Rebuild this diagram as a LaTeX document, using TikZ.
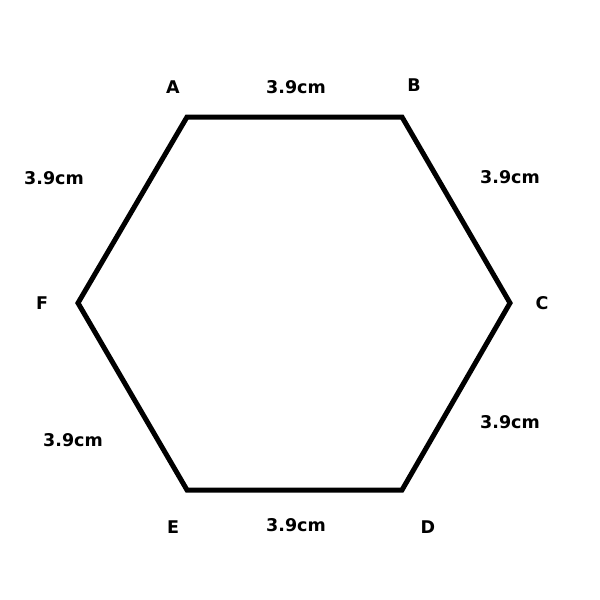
\documentclass[tikz,border=0pt]{standalone}
\usepackage{fontspec}
\setmainfont{DejaVu Sans}
\begin{document}
\begin{tikzpicture}[x=1pt,y=-1pt,
  lbl/.style={font=\fontsize{17.5}{20}\selectfont\bfseries, text=black, inner sep=0pt},
  edge/.style={line width=5pt, line join=miter, black}]
\useasboundingbox (0,0) rectangle (600,600);
\coordinate (A) at (187,117);
\coordinate (B) at (402,117);
\coordinate (C) at (510,303);
\coordinate (D) at (402,490);
\coordinate (E) at (187,490);
\coordinate (F) at (78,303);
\draw[edge] (A) -- (B) -- (C) -- (D) -- (E) -- (F) -- cycle;
\node[lbl] (la) at (173,87) {A};
\node[lbl] (lb) at (414,85) {B};
\node[lbl] (lc) at (542,303) {C};
\node[lbl] (ld) at (428,527) {D};
\node[lbl] (le) at (173,527) {E};
\node[lbl] (lf) at (42,303) {F};
\node[lbl] (sab) at (296,87) {3.9cm};
\node[lbl] (sbc) at (510,177) {3.9cm};
\node[lbl] (scd) at (510,422) {3.9cm};
\node[lbl] (sde) at (296,525) {3.9cm};
\node[lbl] (sef) at (73,440) {3.9cm};
\node[lbl] (sfa) at (54,178) {3.9cm};
\end{tikzpicture}
\end{document}
